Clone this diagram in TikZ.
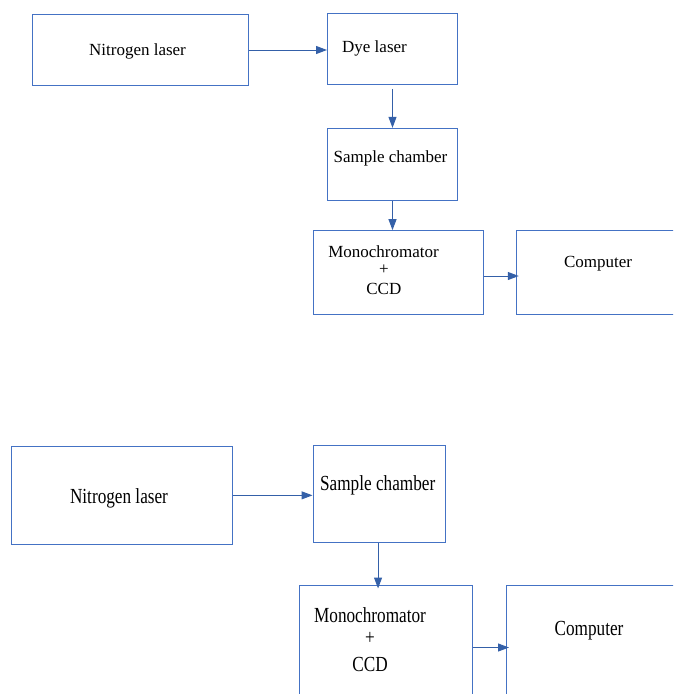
\documentclass[tikz,border=0pt]{standalone}
\usepackage{fontspec}
\setmainfont{Liberation Serif}
\usetikzlibrary{arrows.meta}
\definecolor{boxblue}{RGB}{68,114,196}
\definecolor{arrblue}{RGB}{52,96,168}
\tikzset{
  box/.style={draw=boxblue, line width=1pt, rectangle, inner sep=0pt},
  arr/.style={draw=arrblue, line width=1pt, -{Triangle[length=11pt,width=8pt]}},
  txt/.style={inner sep=0pt, font=\fontsize{17}{20}\selectfont},
  bigtxt/.style={inner sep=0pt, font=\fontsize{21.5}{24}\selectfont},
}
\newcommand{\cond}[1]{\scalebox{0.8}[1]{#1}}
\begin{document}
\begin{tikzpicture}[x=1pt,y=-1pt]
\clip (0,0) rectangle (673,694);
% ---------- top diagram ----------
\node[box, minimum width=216.5pt, minimum height=71pt] (n1) at (140.25,50) {};
\node[box, minimum width=130pt, minimum height=71pt] (d1) at (392.5,48.8) {};
\node[box, minimum width=130pt, minimum height=71.7pt] (s1) at (392.5,164.2) {};
\node[box, minimum width=169.6pt, minimum height=84.3pt] (m1) at (398.5,272.8) {};
\node[box, minimum width=184pt, minimum height=84.3pt] (c1) at (608.3,272.8) {};

\node[txt] (t1) at (137.5,51.5) {Nitrogen laser};
\node[txt] (t2) at (374.5,48) {Dye laser};
\node[txt] (t3) at (390.5,158) {Sample chamber};
\node[txt] (t4) at (383.5,252) {Monochromator};
\node[txt] (t5) at (384,269.5) {+};
\node[txt] (t6) at (383.8,288.5) {CCD};
\node[txt] (t7) at (598,264) {Computer};

\draw[arr] (n1.east) -- (n1.east -| d1.west);
\draw[arr] ([yshift=-4pt]d1.south) -- (s1.north);
\draw[arr] (s1.south) -- (s1.south |- m1.north);
\draw[arr] ([yshift=-3.2pt]m1.east) -- ([xshift=3pt,yshift=-3.2pt]m1.east -| c1.west);

% ---------- bottom diagram ----------
\node[box, minimum width=221pt, minimum height=97.3pt] (n2) at (122.1,495.35) {};
\node[box, minimum width=132.5pt, minimum height=97.7pt] (s2) at (379.25,493.85) {};
\node[box, minimum width=173pt, minimum height=135pt] (m2) at (385.5,652.5) {};
\node[box, minimum width=193.5pt, minimum height=135pt] (c2) at (603.25,652.5) {};

\node[bigtxt] (b1) at (119,498) {\cond{Nitrogen laser}};
\node[bigtxt] (b2) at (377.7,485.5) {\cond{Sample chamber}};
\node[bigtxt] (b3) at (370,615) {\cond{Monochromator}};
\node[bigtxt] (b4) at (370,638.5) {\cond{+}};
\node[bigtxt] (b5) at (370,664) {\cond{CCD}};
\node[bigtxt] (b6) at (589,630.5) {\cond{Computer}};

\draw[arr] (n2.east) -- (n2.east -| s2.west);
\draw[arr] ([xshift=-1.2pt]s2.south) -- ([xshift=-1.2pt,yshift=-4pt]s2.south |- m2.north);
\draw[arr] ([yshift=5pt]m2.east) -- ([xshift=3pt,yshift=5pt]m2.east -| c2.west);
\end{tikzpicture}
\end{document}
